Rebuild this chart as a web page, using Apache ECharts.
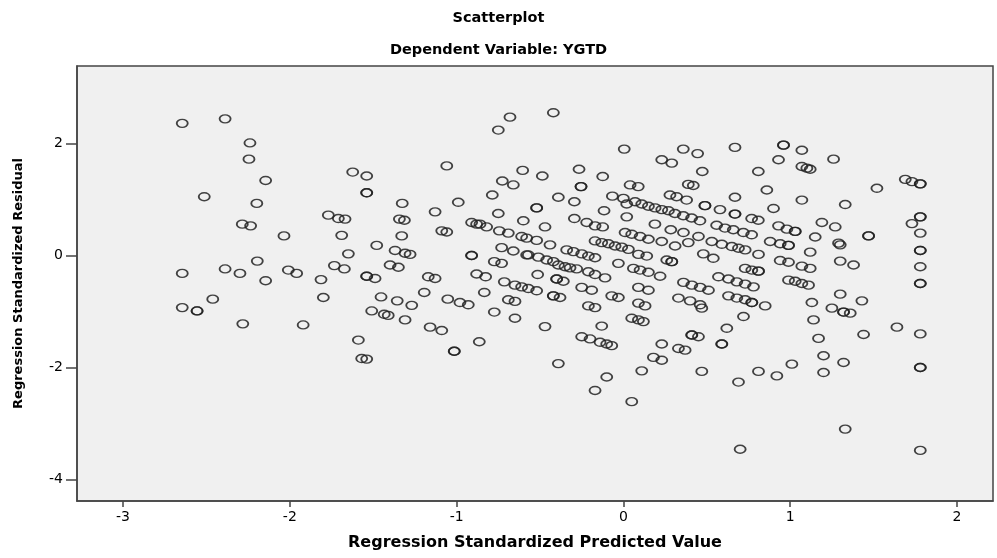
<!DOCTYPE html>
<html>
<head>
<meta charset="utf-8">
<title>Scatterplot</title>
<script src="https://cdn.jsdelivr.net/npm/echarts@6/dist/echarts.min.js"></script>
<style>
  html, body { margin: 0; padding: 0; background: #ffffff; }
  #chart { width: 997px; height: 558px; }
</style>
</head>
<body>
<div id="chart"></div>
<script>
// Regression Standardized Predicted Value (x) for each case
const predicted = [
  -2.645, -2.388, -2.239, -2.245, -2.145, -2.513, -2.198, -2.285, -2.235, -2.035,
  -2.195, -2.645, -2.388, -2.299, -2.145, -2.009, -1.959, -2.462, -2.645, -2.556,
  -2.556, -2.282, -1.92,
  -0.680, -0.750, -1.059, -0.604, -1.623, -1.539, -0.726, -0.660, -1.539, -1.539,
  -0.786, -1.326, -0.990, -1.129, -0.750, -1.769, -1.709, -1.669, -1.343, -1.313,
  -0.600, -0.910, -0.880, -0.860, -0.820, -1.089, -1.059, -0.744, -0.690, -0.610,
  -0.580, -1.689, -1.329, -1.479, -1.369, -1.309, -1.279, -0.730, -0.660, -1.649,
  -0.910, -0.910, -0.580, -0.774, -0.730, -1.733, -1.673, -1.399, -1.349,
  -1.813, -1.539, -1.539, -1.489, -1.170, -1.129, -0.880, -0.826, -0.714, -0.650,
  -0.610, -0.570, -1.799, -1.453, -1.356, -1.269, -1.194, -1.053, -0.980, -0.930,
  -0.834, -0.690, -0.650, -1.509, -1.434, -1.410, -1.309, -1.159, -1.089, -0.774,
  -0.650, -1.589, -0.864, -1.014, -1.014, -1.569, -1.539,
  -0.420, 0.005, 0.359, 0.445, 0.669, 0.230, 0.290, 0.473, 0.809, -0.486,
  -0.266, -0.124, -0.254, -0.254, 0.040, 0.089, 0.389, 0.419, -0.390, -0.294,
  -0.066, 0.000, 0.020, 0.070, 0.110, 0.150, 0.190, 0.230, 0.270, 0.279,
  0.319, 0.379, 0.309, 0.359, 0.409, 0.459, 0.489, 0.489, 0.579, 0.669,
  0.669, 0.669, 0.769, 0.809, -0.520, -0.520, -0.470, -0.294, -0.220, -0.170,
  -0.124, -0.116, 0.020, 0.189, 0.284, 0.360, 0.450, 0.010, 0.050, 0.100,
  0.150, -0.170, -0.130, -0.090, -0.050, -0.010, 0.030, -0.520, -0.440, 0.230,
  0.310, 0.389, 0.559, 0.609, 0.659, 0.719, 0.769, 0.530, 0.590, 0.650,
  0.690, 0.730, 0.810, -0.340, -0.300, -0.250, -0.210, -0.170, -0.570, -0.510,
  -0.460, -0.420, -0.030, 0.090, 0.140, 0.260, 0.290, 0.290, 0.479, 0.539,
  -0.514, -0.520, -0.400, -0.400, -0.360, -0.420, -0.420, -0.380, -0.390, -0.350,
  -0.320, -0.280, -0.210, -0.170, -0.110, -0.250, -0.190, -0.210, -0.170, -0.070,
  -0.030, 0.060, 0.100, 0.150, 0.220, 0.090, 0.150, 0.090, 0.130, 0.050,
  0.090, 0.120, -0.130, -0.470, -0.250, -0.200, -0.140, -0.100, -0.070, -0.390,
  -0.100, -0.170, 0.050, 0.110, 0.230, 0.180, 0.230, 0.330, 0.370, 0.410,
  0.410, 0.450, 0.470, 0.330, 0.400, 0.460, 0.470, 0.360, 0.410, 0.460,
  0.510, 0.570, 0.630, 0.680, 0.730, 0.780, 0.630, 0.680, 0.730, 0.770,
  0.770, 0.720, 0.620, 0.590, 0.590, 0.690, 0.700, 0.810, 0.730, 0.770,
  0.810, 0.810,
  0.960, 0.960, 1.070, 0.930, 1.260, 1.070, 1.100, 1.120, 1.690, 1.730,
  1.780, 1.780, 1.520, 0.860, 1.070, 1.330, 0.900, 1.780, 1.780, 1.730,
  1.190, 1.270, 0.930, 0.980, 1.030, 1.030, 1.150, 1.470, 1.470, 1.780,
  0.880, 0.940, 0.990, 0.990, 1.290, 1.300, 1.120, 1.780, 1.780, 0.940,
  0.990, 1.070, 1.120, 1.300, 1.380, 1.780,
  1.780, 1.780, 0.990, 1.030, 1.070, 1.110, 0.850, 1.130, 1.300, 1.430,
  1.250, 1.320, 1.320, 1.360, 1.140, 1.170, 1.440, 1.640, 1.780, 1.200,
  1.320, 1.010, 0.920, 1.200, 1.780, 1.780, 1.330, 1.780
];

// Regression Standardized Residual (y) for each case
const residual = [
  2.36, 2.44, 2.01, 1.72, 1.34, 1.05, 0.93, 0.56, 0.53, 0.35,
  -0.10, -0.32, -0.24, -0.32, -0.45, -0.26, -0.32, -0.78, -0.93, -0.99,
  -0.99, -1.22, -1.24,
  2.47, 2.24, 1.60, 1.52, 1.49, 1.42, 1.33, 1.26, 1.12, 1.12,
  1.08, 0.93, 0.95, 0.78, 0.75, 0.72, 0.66, 0.65, 0.65, 0.63,
  0.62, 0.59, 0.56, 0.56, 0.51, 0.44, 0.42, 0.44, 0.40, 0.34,
  0.31, 0.36, 0.35, 0.18, 0.09, 0.04, 0.02, 0.14, 0.08, 0.03,
  0.00, 0.00, 0.01, -0.11, -0.14, -0.18, -0.24, -0.17, -0.21,
  -0.43, -0.37, -0.37, -0.41, -0.38, -0.41, -0.33, -0.38, -0.47, -0.53,
  -0.56, -0.59, -0.75, -0.74, -0.81, -0.89, -0.66, -0.78, -0.84, -0.88,
  -0.66, -0.79, -0.82, -0.99, -1.05, -1.07, -1.15, -1.28, -1.34, -1.01,
  -1.12, -1.51, -1.54, -1.71, -1.71, -1.84, -1.85,
  2.55, 1.90, 1.90, 1.82, 1.93, 1.71, 1.65, 1.50, 1.50, 1.42,
  1.54, 1.41, 1.23, 1.23, 1.26, 1.23, 1.27, 1.25, 1.04, 0.96,
  1.06, 1.02, 0.92, 0.96, 0.92, 0.88, 0.85, 0.82, 0.80, 1.08,
  1.05, 0.99, 0.75, 0.71, 0.67, 0.62, 0.89, 0.89, 0.82, 0.74,
  0.74, 1.04, 0.66, 0.63, 0.85, 0.85, 0.51, 0.66, 0.59, 0.53,
  0.51, 0.80, 0.69, 0.56, 0.46, 0.41, 0.34, 0.41, 0.38, 0.34,
  0.29, 0.26, 0.23, 0.21, 0.17, 0.15, 0.11, 0.27, 0.19, 0.25,
  0.17, 0.23, 0.54, 0.49, 0.46, 0.41, 0.37, 0.25, 0.20, 0.16,
  0.13, 0.10, 0.02, 0.10, 0.07, 0.03, -0.01, -0.04, 0.01, -0.03,
  -0.08, -0.11, -0.14, 0.02, -0.01, -0.08, -0.11, -0.11, 0.03, -0.05,
  -0.34, -0.63, -0.42, -0.42, -0.46, -0.72, -0.72, -0.75, -0.17, -0.20,
  -0.22, -0.24, -0.29, -0.34, -0.40, -0.57, -0.62, -0.90, -0.93, -0.72,
  -0.75, -0.23, -0.26, -0.30, -0.37, -0.57, -0.62, -0.85, -0.90, -1.12,
  -1.15, -1.18, -1.26, -1.27, -1.45, -1.49, -1.55, -1.58, -1.61, -1.93,
  -2.17, -2.41, -2.61, -2.06, -1.58, -1.82, -1.87, -1.66, -1.69, -1.42,
  -1.42, -1.45, -2.07, -0.76, -0.81, -0.88, -0.94, -0.48, -0.53, -0.57,
  -0.62, -0.38, -0.42, -0.47, -0.51, -0.56, -0.72, -0.76, -0.79, -0.84,
  -0.84, -1.09, -1.30, -1.58, -1.58, -2.26, -3.46, -2.07, -0.23, -0.26,
  -0.28, -0.28,
  1.97, 1.97, 1.88, 1.71, 1.72, 1.59, 1.56, 1.54, 1.36, 1.32,
  1.28, 1.28, 1.20, 1.17, 0.99, 0.91, 0.84, 0.69, 0.69, 0.57,
  0.59, 0.51, 0.53, 0.47, 0.43, 0.43, 0.33, 0.35, 0.35, 0.40,
  0.25, 0.21, 0.18, 0.18, 0.22, 0.19, 0.06, 0.09, 0.09, -0.09,
  -0.12, -0.19, -0.23, -0.10, -0.17, -0.20,
  -0.50, -0.50, -0.44, -0.46, -0.50, -0.53, -0.90, -0.84, -0.69, -0.81,
  -0.94, -1.01, -1.01, -1.03, -1.15, -1.48, -1.41, -1.28, -1.40, -1.79,
  -1.91, -1.94, -2.15, -2.09, -2.00, -2.00, -3.10, -3.48
];

// Axis tick values shown on each axis
const xTicks = [-3, -2, -1, 0, 1, 2];
const yTicks = [-4, -2, 0, 2];

const points = predicted.map((x, i) => [x, residual[i]]);

const font = 'DejaVu Sans';
const chart = echarts.init(document.getElementById('chart'), null, { renderer: 'canvas' });

const isTick = (list, v) => list.includes(Math.round(v * 1000) / 1000);

chart.setOption({
  animation: false,
  backgroundColor: '#ffffff',
  title: [
    {
      text: 'Scatterplot',
      left: 'center',
      top: 6,
      textStyle: { fontFamily: font, fontWeight: 'bold', fontSize: 14.5, color: '#000' }
    },
    {
      text: 'Dependent Variable: YGTD',
      left: 'center',
      top: 38,
      textStyle: { fontFamily: font, fontWeight: 'bold', fontSize: 14.5, color: '#000' }
    }
  ],
  grid: {
    left: 77, right: 4, top: 66, bottom: 57,
    show: true,
    backgroundColor: '#f0f0f0',
    borderColor: '#444',
    borderWidth: 1.5
  },
  xAxis: {
    type: 'value',
    min: -3.276,
    max: 2.216,
    splitNumber: 5,
    name: 'Regression Standardized Predicted Value',
    nameLocation: 'middle',
    nameGap: 34,
    nameTextStyle: { fontFamily: font, fontWeight: 'bold', fontSize: 16, color: '#000' },
    axisLine: { show: true, onZero: false, lineStyle: { color: '#444', width: 1.5 } },
    axisTick: {
      show: true, length: 6, lineStyle: { color: '#444', width: 1.5 },
      customValues: xTicks
    },
    axisLabel: {
      fontFamily: font, fontSize: 14, color: '#000', margin: 9,
      customValues: xTicks,
      formatter: v => isTick(xTicks, v) ? String(v) : ''
    },
    splitLine: { show: false }
  },
  yAxis: {
    type: 'value',
    min: -4.384,
    max: 3.384,
    splitNumber: 4,
    name: 'Regression Standardized Residual',
    nameLocation: 'middle',
    nameGap: 52,
    nameTextStyle: { fontFamily: font, fontWeight: 'bold', fontSize: 13, color: '#000' },
    axisLine: { show: true, onZero: false, lineStyle: { color: '#444', width: 1.5 } },
    axisTick: {
      show: true, length: 11, lineStyle: { color: '#444', width: 1.5 },
      customValues: yTicks
    },
    axisLabel: {
      fontFamily: font, fontSize: 14, color: '#000', margin: 14,
      customValues: yTicks,
      formatter: v => isTick(yTicks, v) ? String(v) : ''
    },
    splitLine: { show: false }
  },
  series: [{
    type: 'scatter',
    data: points,
    symbol: 'path://M0,4A5.5,4,0,1,1,11,4A5.5,4,0,1,1,0,4Z',
    symbolSize: [11, 8],
    itemStyle: {
      color: 'rgba(0,0,0,0)',
      borderColor: '#222222',
      borderWidth: 1.6,
      opacity: 0.85
    },
    emphasis: { disabled: true }
  }]
});
</script>
</body>
</html>
